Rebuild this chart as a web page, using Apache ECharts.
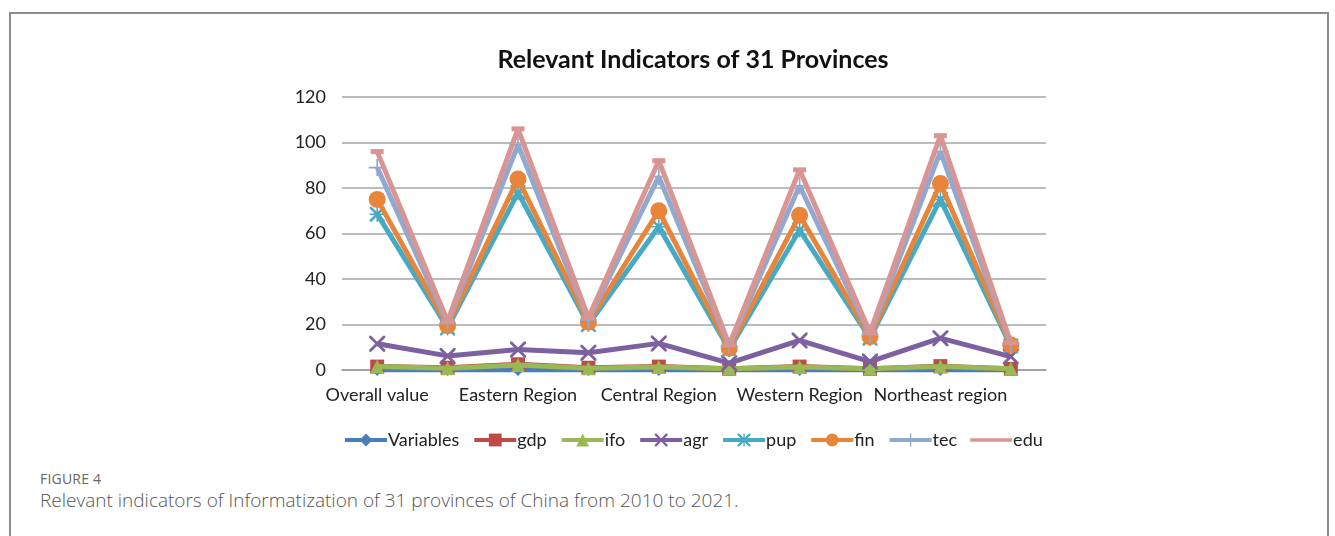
<!DOCTYPE html>
<html>
<head>
<meta charset="utf-8">
<script src="https://cdn.jsdelivr.net/npm/echarts@6/dist/echarts.min.js"></script>
<style>
  html, body { margin: 0; padding: 0; background: #fff; width: 1335px; height: 536px; overflow: hidden; }
  #frame { position: absolute; left: 9px; top: 12px; width: 1320px; height: 600px; border: 2px solid #8c8c8c; box-sizing: border-box; }
  #chart { position: absolute; left: 0; top: 0; width: 1335px; height: 460px; }
  #figlabel { position: absolute; left: 40px; top: 469px; font-family: "Open Sans", sans-serif; font-size: 14px; color: #666; letter-spacing: 0.2px; }
  #caption { position: absolute; left: 40px; top: 487px; font-family: "Open Sans", sans-serif; font-weight: 300; font-size: 19px; color: #555; }
</style>
</head>
<body>
<div id="frame"></div>
<div id="chart"></div>
<div id="figlabel">FIGURE 4</div>
<div id="caption">Relevant indicators of Informatization of 31 provinces of China from 2010 to 2021.</div>
<script>
const categories = ["Overall value", "Overall value SD", "Eastern Region", "Eastern Region SD", "Central Region", "Central Region SD", "Western Region", "Western Region SD", "Northeast region", "Northeast region SD"];
const yTicks = [0, 20, 40, 60, 80, 100, 120];
const seriesNames = ["Variables", "gdp", "ifo", "agr", "pup", "fin", "tec", "edu"];
const variablesVals = [0, 0, 0, 0, 0, 0, 0, 0, 0, 0];
const gdpVals = [1.5, 1.0, 2.5, 1.0, 1.5, 0.5, 1.5, 0.5, 1.7, 0.5];
const ifoVals = [1.5, 0.8, 2.2, 0.8, 1.3, 0.5, 1.3, 0.5, 1.5, 0.5];
const agrVals = [11.5, 6.2, 9.0, 7.6, 11.7, 3.0, 13.0, 3.7, 14.0, 5.9];
const pupVals = [68.5, 18.5, 78.0, 20.0, 63.0, 9.0, 61.5, 14.0, 75.0, 10.5];
const finVals = [75.0, 19.5, 84.0, 21.0, 70.0, 9.6, 68.0, 14.6, 82.0, 11.0];
const tecVals = [89.0, 20.5, 99.0, 22.0, 85.0, 10.5, 81.0, 15.5, 96.0, 11.5];
const eduVals = [96.0, 21.5, 106.0, 23.0, 92.0, 11.0, 88.0, 16.5, 103.0, 12.0];

const allVals = [variablesVals, gdpVals, ifoVals, agrVals, pupVals, finVals, tecVals, eduVals];
const colors = ["#4a7ebb", "#be4b48", "#98b954", "#7d60a0", "#46aac5", "#e8853a", "#91a8d0", "#d89593"];
const X_PATH = "path://M0,0 L2.5,0 L10,7.5 L17.5,0 L20,0 L20,2.5 L12.5,10 L20,17.5 L20,20 L17.5,20 L10,12.5 L2.5,20 L0,20 L0,17.5 L7.5,10 L0,2.5 Z";
const PLUS_PATH = "path://M9,0 L11,0 L11,9 L20,9 L20,11 L11,11 L11,20 L9,20 L9,11 L0,11 L0,9 L9,9 Z";
const STAR_PATH = "path://M0,0 L2.5,0 L10,7.5 L17.5,0 L20,0 L20,2.5 L12.5,10 L20,17.5 L20,20 L17.5,20 L10,12.5 L2.5,20 L0,20 L0,17.5 L7.5,10 L0,2.5 Z M9,0 L11,0 L11,20 L9,20 Z M0,9 L20,9 L20,11 L0,11 Z";
const DASH_PATH = "path://M0,0 L20,0 L20,5 L0,5 Z";
const EDU_LEGEND_ICON = "path://M0,0 L0.1,0 L0.1,0.1 Z M0,6.2 L42,6.2 L42,9.8 L0,9.8 Z M0,16 L0.1,16 L0.1,15.9 Z";
const symbols = ["diamond", "rect", "triangle", X_PATH, STAR_PATH, "circle", PLUS_PATH, DASH_PATH];
const symbolSizes = [12, 14, 14, 16, 15, 17, 17, [13, 5]];

const chart = echarts.init(document.getElementById('chart'), null, { renderer: 'canvas' });
const FONT = "Lato, 'Open Sans', sans-serif";
chart.setOption({
  animation: false,
  color: colors,
  title: {
    text: "Relevant Indicators of 31 Provinces",
    left: 688, top: 42, textAlign: 'center',
    textStyle: { fontFamily: FONT, fontWeight: 'bold', fontSize: 25, color: '#111' }
  },
  legend: {
    data: seriesNames.map(n => n === 'edu' ? { name: n, icon: EDU_LEGEND_ICON } : n),
    left: 338, top: 426,
    itemWidth: 42, itemHeight: 16, itemGap: 13,
    textStyle: { fontFamily: FONT, fontSize: 18, color: '#222', padding: [0, 0, 0, -4] },
    lineStyle: { width: 4 },
    itemStyle: { borderWidth: 0 }
  },
  grid: { left: 342, right: 1335 - 1046, top: 97, bottom: 460 - 370, containLabel: false },
  xAxis: {
    type: 'category', data: categories, boundaryGap: true,
    axisLine: { show: true, lineStyle: { color: '#9a9a9a', width: 1.5 } },
    axisTick: { show: false },
    axisLabel: { interval: 1, fontFamily: FONT, fontSize: 18, color: '#222', margin: 16 }
  },
  yAxis: {
    type: 'value', min: 0, max: 120, interval: 20,
    axisLine: { show: false }, axisTick: { show: false },
    axisLabel: { fontFamily: FONT, fontSize: 18, color: '#222', margin: 16,
      formatter: v => yTicks.includes(v) ? String(v) : '' },
    splitLine: { lineStyle: { color: '#a6a6a6', width: 1.5 } }
  },
  series: seriesNames.map((name, i) => ({
    name: name, type: 'line', data: allVals[i],
    symbol: symbols[i], symbolSize: symbolSizes[i],
    symbolKeepAspect: false,
    lineStyle: { width: 5, color: colors[i] },
    itemStyle: { color: colors[i], borderWidth: 0 },
    z: 2 + i
  }))
});
</script>
</body>
</html>
